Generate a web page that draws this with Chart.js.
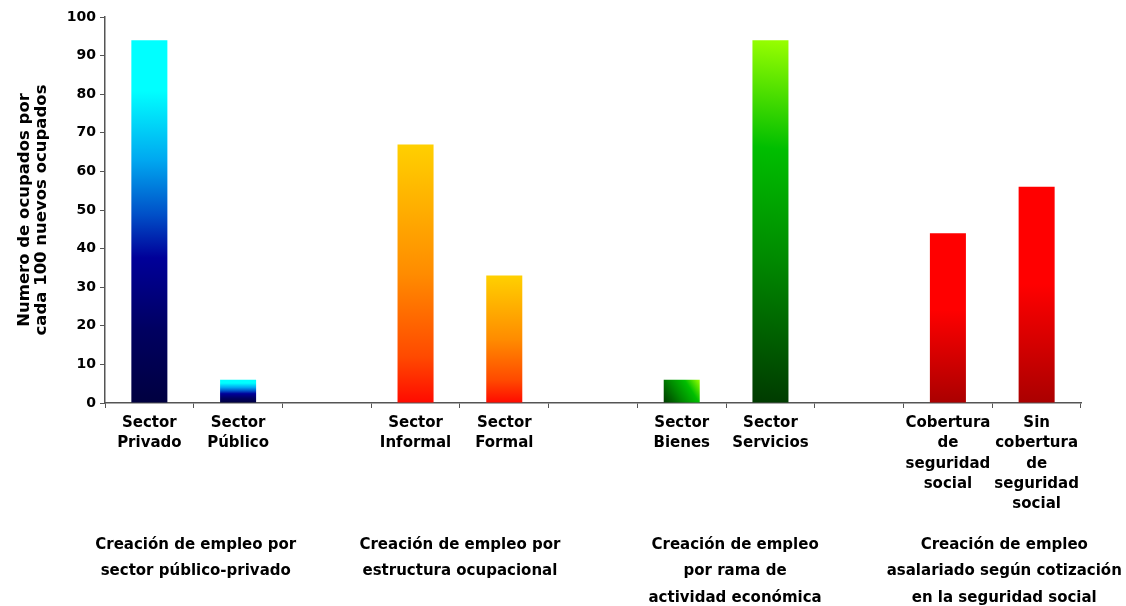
<!DOCTYPE html>
<html>
<head>
<meta charset="utf-8">
<title>Creación de empleo</title>
<script src="https://cdn.jsdelivr.net/npm/chart.js@4/dist/chart.umd.min.js"></script>
<style>
  html, body { margin: 0; padding: 0; background: #ffffff; }
  #wrap { width: 1126px; height: 606px; }
</style>
</head>
<body>
<div id="wrap"><canvas id="chart" width="1126" height="606"></canvas></div>
<script>
// Categories (empty strings are spacer slots between the groups)
const categories = [
  ['Sector', 'Privado'], ['Sector', 'Público'], '',
  ['Sector', 'Informal'], ['Sector', 'Formal'], '',
  ['Sector', 'Bienes'], ['Sector', 'Servicios'], '',
  ['Cobertura', 'de', 'seguridad', 'social'], ['Sin', 'cobertura', 'de', 'seguridad', 'social']
];
// Ocupados por cada 100 nuevos ocupados
const values = [94, 6, null, 67, 33, null, 6, 94, null, 44, 56];

// Group captions and the category slots each one sits under
const groupLabels = [
  ['Creación de empleo por', 'sector público-privado'],
  ['Creación de empleo por', 'estructura ocupacional'],
  ['Creación de empleo', 'por rama de', 'actividad económica'],
  ['Creación de empleo', 'asalariado según cotización', 'en la seguridad social']
];
const groupMembers = [[0, 1], [3, 4], [6, 7], [9, 10]];

const yMin = 0, yMax = 100, yStep = 10;
const yTitle = ['Numero de ocupados por', 'cada 100 nuevos ocupados'];

// Fill family for each slot
const barFamily = ['blue', 'blue', null, 'orange', 'orange', null, 'green', 'green', null, 'red', 'red'];

const FONT = "'DejaVu Sans', Verdana, sans-serif";
const gradientStops = {
  blue:   [[0, '#00FFFF'], [0.14, '#00FFFF'], [0.33, '#00A8F0'], [0.48, '#0050C8'], [0.6, '#000099'], [0.8, '#000060'], [1, '#000040']],
  orange: [[0, '#FFD000'], [0.5, '#FF8C00'], [0.82, '#FF4A00'], [1, '#FF0A00']],
  green:  [[0, '#99FF00'], [0.3, '#00BE00'], [0.6, '#008A00'], [1, '#003A00']],
  red:    [[0, '#FF0000'], [0.45, '#FF0000'], [1, '#AA0000']]
};
const BAR_FRACTION = 0.406;

function barFill(ctx) {
  const chart = ctx.chart;
  if (!chart.chartArea || ctx.type !== 'data') return '#888888';
  const i = ctx.dataIndex;
  const v = values[i];
  const fam = barFamily[i];
  if (v == null || !fam) return 'rgba(0,0,0,0)';
  const xs = chart.scales.x, ys = chart.scales.y;
  const cx = xs.getPixelForValue(i);
  const hw = (xs.width / categories.length) * BAR_FRACTION / 2;
  const top = ys.getPixelForValue(v);
  const bottom = ys.getPixelForValue(0);
  const g = fam === 'green'
    ? chart.ctx.createLinearGradient(cx + hw, top, cx - hw, bottom)
    : chart.ctx.createLinearGradient(0, top, 0, bottom);
  gradientStops[fam].forEach(([o, c]) => g.addColorStop(o, c));
  return g;
}

// Captions under each pair of bars
const groupCaptions = {
  id: 'groupCaptions',
  afterDraw(chart) {
    const { ctx, scales: { x }, chartArea } = chart;
    const nudge = [2, 0, 9, 12];
    ctx.save();
    ctx.font = `bold 15px ${FONT}`;
    ctx.fillStyle = '#000000';
    ctx.textAlign = 'center';
    ctx.textBaseline = 'middle';
    groupLabels.forEach((lines, gi) => {
      const [a, b] = groupMembers[gi];
      const cx = (x.getPixelForValue(a) + x.getPixelForValue(b)) / 2 + nudge[gi];
      lines.forEach((line, li) => {
        ctx.fillText(line, cx, chartArea.bottom + 142 + li * 26.5);
      });
    });
    ctx.restore();
  }
};

new Chart(document.getElementById('chart'), {
  type: 'bar',
  data: {
    labels: categories,
    datasets: [{
      data: values,
      backgroundColor: barFill,
      borderWidth: 0,
      categoryPercentage: 1,
      barPercentage: BAR_FRACTION
    }]
  },
  options: {
    responsive: false,
    animation: false,
    devicePixelRatio: 1,
    layout: { padding: { top: 17, right: 45, left: 0, bottom: 0 } },
    plugins: { legend: { display: false }, tooltip: { enabled: false } },
    scales: {
      x: {
        offset: true,
        grid: {
          offset: true,
          drawOnChartArea: false,
          drawTicks: true,
          tickLength: 5,
          color: '#555555'
        },
        border: { display: true, color: '#555555', width: 1.5 },
        ticks: {
          autoSkip: false,
          maxRotation: 0,
          color: '#000000',
          padding: 5,
          font: { family: FONT, size: 15, weight: 'bold', lineHeight: 1.35 }
        },
        afterFit(scale) { scale.height = 203; }
      },
      y: {
        min: yMin,
        max: yMax,
        ticks: {
          stepSize: yStep,
          color: '#000000',
          padding: 4,
          font: { family: FONT, size: 14, weight: 'bold' }
        },
        grid: {
          drawOnChartArea: false,
          drawTicks: true,
          tickLength: 5,
          color: '#555555'
        },
        border: { display: true, color: '#555555', width: 1.5 },
        title: {
          display: true,
          text: yTitle,
          color: '#000000',
          padding: { top: 16, bottom: 0 },
          font: { family: FONT, size: 16.5, weight: 'bold', lineHeight: 1.05 }
        },
        afterFit(scale) { scale.width = 105; }
      }
    }
  },
  plugins: [groupCaptions]
});
</script>
</body>
</html>
